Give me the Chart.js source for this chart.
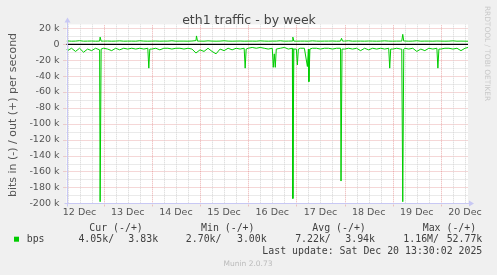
<!DOCTYPE html>
<html>
<head>
<meta charset="utf-8">
<script src="https://cdn.jsdelivr.net/npm/chart.js@4/dist/chart.umd.min.js"></script>
<style>
  html, body { margin: 0; padding: 0; background: #f0f0f0; }
  canvas { display: block; }
</style>
</head>
<body>
<canvas id="chart" width="497" height="275"></canvas>
<script>
// hours are counted from 12 Dec 00:00; the graph covers 12 Dec 05:30 .. 20 Dec 13:30
const dayLabels = ["12 Dec", "13 Dec", "14 Dec", "15 Dec", "16 Dec", "17 Dec", "18 Dec", "19 Dec", "20 Dec"];
const yTicks = [20000, 0, -20000, -40000, -60000, -80000, -100000, -120000, -140000, -160000, -180000, -200000];

// 2-hourly samples, kbit/s
const sampleHours = [];
for (let h = 6; h <= 204; h += 2) sampleHours.push(h);

const inBase = [
  -8, -5, -9, -5, -10, -6, -8, -5, -7, -5,
  -6, -8, -5, -7, -5, -6, -5, -6, -5, -6,
  -5, -6, -5, -7, -5, -5, -6, -5, -5, -6,
  -5, -6, -11, -7, -9, -5, -9, -12, -6, -8,
  -5, -7, -5, -6, -5, -5, -4, -5, -4, -5,
  -6, -5, -6, -5, -4, -6, -5, -6, -5, -5,
  -6, -5, -5, -6, -5, -5, -6, -5, -5, -6,
  -5, -6, -5, -8, -5, -7, -5, -6, -5, -6,
  -5, -6, -5, -6, -5, -6, -5, -9, -6, -8,
  -5, -6, -5, -6, -5, -5, -6, -5, -8, -5
];
const outBase = [
  4.2, 3.9, 4.0, 4.5, 3.9, 4.0, 4.1, 3.9, 4.0, 4.0,
  4.1, 3.9, 4.0, 4.3, 3.9, 4.0, 4.0, 3.9, 4.4, 4.0,
  3.9, 4.0, 4.1, 3.9, 4.0, 4.0, 4.4, 3.9, 4.0, 4.0,
  3.9, 4.1, 4.6, 4.0, 3.9, 4.3, 4.0, 3.9, 4.0, 4.4,
  4.0, 3.9, 4.0, 4.1, 3.9, 4.0, 4.0, 3.9, 4.3, 4.0,
  3.9, 4.0, 4.0, 4.4, 3.9, 4.0, 4.1, 3.9, 4.0, 4.0,
  3.9, 4.3, 4.0, 3.9, 4.0, 4.0, 4.1, 3.9, 4.0, 4.0,
  4.4, 3.9, 4.0, 4.0, 3.9, 4.1, 4.0, 3.9, 4.0, 4.3,
  4.0, 3.9, 4.0, 4.0, 4.1, 3.9, 4.0, 4.4, 3.9, 4.0,
  4.0, 3.9, 4.1, 4.0, 3.9, 4.0, 4.3, 3.9, 4.0, 3.9
];

// [hour, kbit/s] extra samples: ends and short spikes
const inSpikes = [
  [5.5, -6], [22.25, -198], [22.75, -6], [46.5, -30], [47, -6],
  [94.5, -30], [95, -6], [108.5, -29], [109, -12], [109.5, -29],
  [118.25, -194], [118.75, -6], [120.5, -26], [121, -6],
  [125.5, -28], [126.25, -47], [126.75, -6], [142.25, -172], [142.75, -6],
  [166.5, -30], [167, -6], [172.5, -6], [173, -198], [173.5, -6],
  [190.5, -30], [191, -6], [205.5, -4.05]
];
const outSpikes = [
  [5.5, 4.0], [22.25, 9], [22.75, 4.0], [70.25, 10.5], [70.75, 4.0],
  [118.25, 9], [118.75, 4.0], [142.5, 7.5], [143, 4.0],
  [172.5, 4.0], [173, 12.5], [173.5, 4.0], [205.5, 3.83]
];

const legendHeaders = ["Cur (-/+)", "Min (-/+)", "Avg (-/+)", "Max (-/+)"];
const legendIn = ["4.05k", "2.70k", "7.22k", "1.16M"];
const legendOut = ["3.83k", "3.00k", "3.94k", "52.77k"];
const lastUpdate = "Last update: Sat Dec 20 13:30:02 2025";

const GREEN = "#00cc00";
const MONO = '9.9px "DejaVu Sans Mono"';
const SANS = '"DejaVu Sans"';

const toPoints = (values, extra) =>
  sampleHours.map((h, i) => ({ x: h, y: values[i] * 1000 }))
    .concat(extra.map(([h, v]) => ({ x: h, y: v * 1000 })))
    .sort((a, b) => a.x - b.x);

const munin = {
  id: "munin",
  beforeDraw(chart) {
    const { ctx, chartArea: a, scales: { x, y } } = chart;
    ctx.save();
    ctx.fillStyle = "#ffffff";
    ctx.fillRect(a.left, a.top, a.right - a.left, a.bottom - a.top);
    ctx.lineWidth = 1;
    ctx.setLineDash([1, 1]);
    for (let v = -190000; v <= 20000; v += 10000) {
      const py = Math.round(y.getPixelForValue(v)) + 0.5;
      const major = v % 20000 === 0;
      ctx.strokeStyle = major ? "rgba(220,110,110,0.55)" : "#d4d4d4";
      ctx.beginPath();
      ctx.moveTo(major ? a.left - 3 : a.left, py);
      ctx.lineTo(a.right, py);
      ctx.stroke();
    }
    for (let h = 6; h <= 204; h += 6) {
      const px = Math.round(x.getPixelForValue(h)) + 0.5;
      const major = h % 24 === 0;
      ctx.strokeStyle = major ? "rgba(220,110,110,0.55)" : "#d4d4d4";
      ctx.beginPath();
      ctx.moveTo(px, major ? a.bottom + 3 : a.bottom);
      ctx.lineTo(px, a.top);
      ctx.stroke();
    }
    ctx.restore();
  },
  afterDatasetsDraw(chart) {
    const { ctx, chartArea: a, scales: { y } } = chart;
    ctx.save();
    // zero rule
    ctx.strokeStyle = "#000";
    ctx.lineWidth = 1.2;
    const y0 = y.getPixelForValue(0);
    ctx.beginPath();
    ctx.moveTo(a.left, y0);
    ctx.lineTo(a.right, y0);
    ctx.stroke();
    // axes with arrows
    const ax = Math.round(a.left) + 0.5;
    const ay = Math.round(a.bottom) + 0.5;
    ctx.strokeStyle = "#c8c8f4";
    ctx.fillStyle = "#c8c8f4";
    ctx.lineWidth = 1;
    ctx.beginPath();
    ctx.moveTo(ax, ay + 3);
    ctx.lineTo(ax, a.top - 3);
    ctx.moveTo(ax - 3, ay);
    ctx.lineTo(a.right + 2, ay);
    ctx.stroke();
    ctx.beginPath();
    ctx.moveTo(ax - 3, a.top - 2);
    ctx.lineTo(ax + 3, a.top - 2);
    ctx.lineTo(ax, a.top - 7);
    ctx.closePath();
    ctx.fill();
    ctx.beginPath();
    ctx.moveTo(a.right + 1, ay - 3);
    ctx.lineTo(a.right + 1, ay + 3);
    ctx.lineTo(a.right + 6, ay);
    ctx.closePath();
    ctx.fill();
    ctx.restore();
  },
  afterDraw(chart) {
    const { ctx } = chart;
    ctx.save();
    // title
    ctx.fillStyle = "#444";
    ctx.font = "12.5px " + SANS;
    ctx.textAlign = "center";
    ctx.textBaseline = "alphabetic";
    ctx.fillText("eth1 traffic - by week", 249, 24);
    // y axis title
    ctx.save();
    ctx.translate(15.5, 115);
    ctx.rotate(-Math.PI / 2);
    ctx.fillStyle = "#555";
    ctx.font = "11px " + SANS;
    ctx.fillText("bits in (-) / out (+) per second", 0, 0);
    ctx.restore();
    // watermark
    ctx.save();
    ctx.translate(484.5, 53.5);
    ctx.rotate(Math.PI / 2);
    ctx.fillStyle = "#c8c8c8";
    ctx.font = "7.4px " + SANS;
    ctx.fillText("RRDTOOL / TOBI OETIKER", 0, 0);
    ctx.restore();
    // legend
    ctx.font = MONO;
    ctx.fillStyle = "#404040";
    ctx.textAlign = "left";
    const headerX = [89.3, 201, 312.3, 422.7];
    legendHeaders.forEach((t, i) => ctx.fillText(t, headerX[i], 231));
    ctx.fillText("bps", 26.7, 242);
    ctx.textAlign = "right";
    const inRight = [114.1, 221.5, 330.8, 439];
    const outRight = [158.1, 266.7, 375, 482.3];
    legendIn.forEach((t, i) => ctx.fillText(t + "/", inRight[i], 242));
    legendOut.forEach((t, i) => ctx.fillText(t, outRight[i], 242));
    ctx.fillText(lastUpdate, 482.3, 254);
    ctx.fillStyle = GREEN;
    ctx.fillRect(14, 236.7, 5, 5);
    ctx.fillStyle = "#bbb";
    ctx.textAlign = "center";
    ctx.font = "7.5px " + SANS;
    ctx.fillText("Munin 2.0.73", 248, 266);
    ctx.restore();
  }
};

const tickFont = { family: "DejaVu Sans", size: 9.5 };

new Chart(document.getElementById("chart"), {
  type: "line",
  data: {
    datasets: [
      { label: "in", data: toPoints(inBase, inSpikes), borderColor: GREEN, borderWidth: 1, pointRadius: 0, tension: 0, fill: false },
      { label: "out", data: toPoints(outBase, outSpikes), borderColor: GREEN, borderWidth: 1, pointRadius: 0, tension: 0, fill: false }
    ]
  },
  options: {
    responsive: false,
    animation: false,
    devicePixelRatio: 1,
    layout: { padding: { top: 24.4, right: 29, left: 0, bottom: 0 } },
    plugins: { legend: { display: false }, tooltip: { enabled: false }, title: { display: false } },
    scales: {
      x: {
        type: "linear",
        min: 5.5,
        max: 205.5,
        afterFit: (s) => { s.height = 71.7; },
        afterBuildTicks: (s) => { s.ticks = dayLabels.map((_, i) => ({ value: 12 + 24 * i })); },
        ticks: {
          callback: (v) => dayLabels[Math.round((v - 12) / 24)],
          color: "#555",
          font: tickFont,
          padding: 4,
          maxRotation: 0,
          autoSkip: false
        },
        grid: { display: false, drawTicks: false, tickLength: 0 },
        border: { display: false }
      },
      y: {
        min: -200000,
        max: 25000,
        afterFit: (s) => { s.width = 66.5; },
        afterBuildTicks: (s) => { s.ticks = yTicks.map((v) => ({ value: v })); },
        ticks: {
          callback: (v) => (v === 0 ? "0" : v / 1000 + " k"),
          color: "#555",
          font: tickFont,
          padding: 7
        },
        grid: { display: false, drawTicks: false, tickLength: 0 },
        border: { display: false }
      }
    }
  },
  plugins: [munin]
});
</script>
</body>
</html>
